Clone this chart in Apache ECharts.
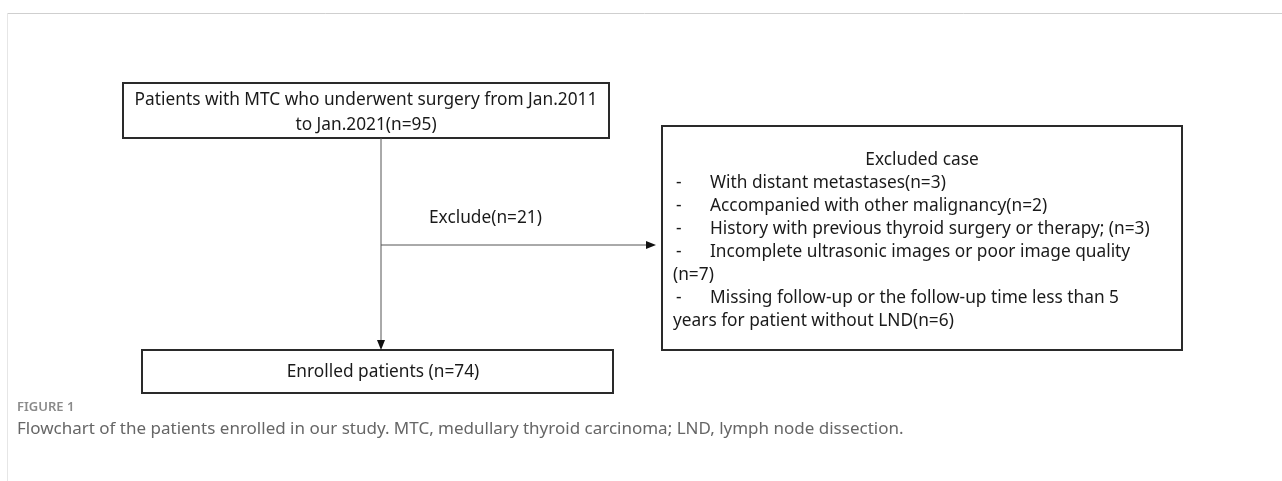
<!DOCTYPE html>
<html lang="en">
<head>
<meta charset="UTF-8">
<title>Figure 1</title>
<style>
html, body { margin: 0; padding: 0; background: #fff; }
#chart { width: 1282px; height: 481px; }
</style>
</head>
<body>
<div id="chart"></div>
<script src="https://cdn.jsdelivr.net/npm/echarts@6/dist/echarts.min.js"></script>
<script>
// flowchart content
var sourceLines = ['Patients with MTC who underwent surgery from Jan.2011', 'to Jan.2021(n=95)'];
var enrolledLines = ['Enrolled patients (n=74)'];
var excludeLabel = 'Exclude(n=21)';
var excludedTitle = 'Excluded case';
var excludedItems = [
	['With distant metastases(n=3)'],
	['Accompanied with other malignancy(n=2)'],
	['History with previous thyroid surgery or therapy; (n=3)'],
	['Incomplete ultrasonic images or poor image quality', '(n=7)'],
	['Missing follow-up or the follow-up time less than 5', 'years for patient without LND(n=6)']
];
var figureTag = 'FIGURE 1';
var figureCaption = 'Flowchart of the patients enrolled in our study. MTC, medullary thyroid carcinoma; LND, lymph node dissection.';

// layout (pixels of the 1282x481 canvas)
var W = 1282, H = 481;
var FONT = '"Noto Sans", sans-serif';
var boxSource = [123, 83, 609, 138];
var boxExcluded = [662, 126, 1182, 350];
var boxEnrolled = [142, 350, 613, 393];
var lineH = 23;

function buildBoxTexts() {
	var t = [];
	t.push({ x: 366, y: 100, text: sourceLines[0], align: 'center' });
	t.push({ x: 366, y: 125, text: sourceLines[1], align: 'center' });
	t.push({ x: 383, y: 372, text: enrolledLines[0], align: 'center' });
	t.push({ x: 922, y: 160, text: excludedTitle, align: 'center' });
	var y = 183;
	excludedItems.forEach(function (item) {
		t.push({ x: 676, y: y, text: '-', align: 'left' });
		t.push({ x: 710, y: y, text: item[0], align: 'left' });
		y += lineH;
		for (var i = 1; i < item.length; i++) {
			t.push({ x: 673, y: y, text: item[i], align: 'left' });
			y += lineH;
		}
	});
	t.push({ x: 429, y: 218, text: excludeLabel, align: 'left' });
	return t;
}

var chart = echarts.init(document.getElementById('chart'), null, { renderer: 'canvas' });

var boxes = [boxSource, boxExcluded, boxEnrolled];
// connectors: [x1, y1, x2, y2]
var arrows = [[381, 138, 381, 350], [381, 245, 656, 245]];
var texts = buildBoxTexts();

var option = {
	animation: false,
	backgroundColor: '#fff',
	grid: { left: 0, right: 0, top: 0, bottom: 0 },
	xAxis: { type: 'value', min: 0, max: W, show: false },
	yAxis: { type: 'value', min: 0, max: H, inverse: true, show: false },
	graphic: [
		{ type: 'line', shape: { x1: 7, y1: 13.5, x2: W, y2: 13.5 }, style: { stroke: '#cfcfcf', lineWidth: 1 } },
		{ type: 'line', shape: { x1: 7.5, y1: 13, x2: 7.5, y2: H }, style: { stroke: '#e6e6e6', lineWidth: 1 } },
		{ type: 'text', left: 17, top: 401, style: { text: figureTag, font: '600 13px ' + FONT, fill: '#8a8a8a' } },
		{ type: 'text', left: 17, top: 421, style: { text: figureCaption, font: '17px ' + FONT, fill: '#666' } }
	],
	series: [
		{
			type: 'custom',
			data: boxes,
			renderItem: function (params, api) {
				var p0 = api.coord([api.value(0), api.value(1)]);
				var p1 = api.coord([api.value(2), api.value(3)]);
				return {
					type: 'rect',
					shape: { x: p0[0], y: p0[1], width: p1[0] - p0[0], height: p1[1] - p0[1] },
					style: { fill: '#fff', stroke: '#2a2a2a', lineWidth: 2 }
				};
			}
		},
		{
			type: 'custom',
			data: arrows,
			renderItem: function (params, api) {
				var a = api.coord([api.value(0), api.value(1)]);
				var b = api.coord([api.value(2), api.value(3)]);
				var dx = b[0] - a[0], dy = b[1] - a[1];
				var len = Math.sqrt(dx * dx + dy * dy);
				var ux = dx / len, uy = dy / len;
				var hl = 10, hw = 4;
				var base = [b[0] - ux * hl, b[1] - uy * hl];
				return {
					type: 'group',
					children: [
						{
							type: 'line',
							shape: { x1: a[0], y1: a[1], x2: base[0], y2: base[1] },
							style: { stroke: '#555', lineWidth: 1 }
						},
						{
							type: 'polygon',
							shape: { points: [b, [base[0] - uy * hw, base[1] + ux * hw], [base[0] + uy * hw, base[1] - ux * hw]] },
							style: { fill: '#111' }
						}
					]
				};
			}
		},
		{
			type: 'custom',
			data: texts.map(function (t) { return [t.x, t.y]; }),
			renderItem: function (params, api) {
				var p = api.coord([api.value(0), api.value(1)]);
				var t = texts[params.dataIndex];
				return {
					type: 'text',
					x: p[0], y: p[1],
					style: {
						text: t.text, font: '17.3px ' + FONT, fill: '#1a1a1a',
						align: t.align, verticalAlign: 'middle'
					}
				};
			}
		}
	]
};
chart.setOption(option);
</script>
</body>
</html>
